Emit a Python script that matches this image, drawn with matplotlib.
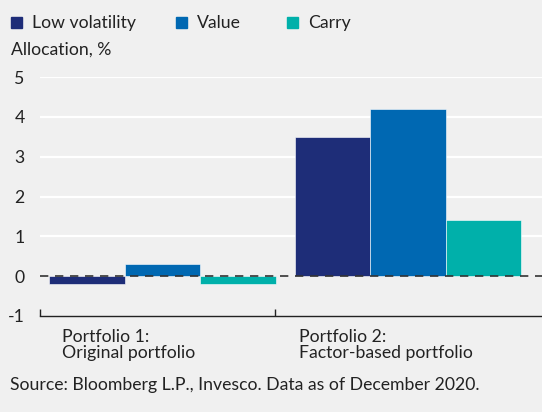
import matplotlib
matplotlib.use("Agg")
import matplotlib.pyplot as plt
from matplotlib.patches import Rectangle

series = ["Low volatility", "Value", "Carry"]
portfolios = ["Portfolio 1:\nOriginal portfolio", "Portfolio 2:\nFactor-based portfolio"]
low_vol = [-0.2, 3.5]
value = [0.3, 4.2]
carry = [-0.2, 1.4]
yticks = [-1, 0, 1, 2, 3, 4, 5]

colors = ["#1e2d78", "#0068b2", "#00b0aa"]
bg = "#f0f0f0"
plt.rcParams["font.family"] = ["Lato", "DejaVu Sans"]
fs = 12.7

fig = plt.figure(figsize=(5.42, 4.12), dpi=100, facecolor=bg)
ax = fig.add_axes([40 / 542, 96 / 412, 502 / 542, 239 / 412], facecolor=bg)

w = 0.308
offsets = [-w, 0, w]
centers = [0, 1]
for vals, off, c in zip([low_vol, value, carry], offsets, colors):
    ax.bar([x + off for x in centers], vals, width=w, color=c,
           edgecolor="#ffffff", linewidth=0.4, zorder=3)

ax.set_xlim(-0.499, 1.546)
ax.set_ylim(-1, 5)
ax.set_yticks(yticks)
ax.set_yticklabels([str(t) for t in yticks], fontsize=fs, color="#222222")
ax.tick_params(axis="y", length=0, pad=11)
for t in yticks[2:]:
    ax.axhline(t, color="white", lw=1.6, zorder=1)
ax.axhline(0, color="#333333", lw=1.2, ls=(0, (5, 4)), zorder=4)

for s in ["top", "right", "left"]:
    ax.spines[s].set_visible(False)
ax.spines["bottom"].set_color("#222222")
ax.spines["bottom"].set_linewidth(1.0)
ax.set_xticks([-0.499, 0.458])
ax.set_xticklabels([])
ax.tick_params(axis="x", length=5, width=1.0, color="#222222", direction="in")

label_x = [-0.41, 0.555]
for x, lab in zip(label_x, portfolios):
    ax.text(x, -1.32, lab, ha="left", va="top", fontsize=fs, color="#222222",
            linespacing=1.0)

# legend
lx = [11, 176, 287]
for x0, name, c in zip(lx, series, colors):
    fig.patches.append(Rectangle((x0 / 542, 1 - 28 / 412), 11 / 542, 11 / 412,
                                 transform=fig.transFigure, color=c))
    fig.text((x0 + 21) / 542, 1 - 23 / 412, name, fontsize=fs, va="center",
             ha="left", color="#222222")

fig.text(11 / 542, 1 - 50 / 412, "Allocation, %", fontsize=fs, va="center",
         ha="left", color="#222222")
fig.text(10 / 542, 1 - 385 / 412, "Source: Bloomberg L.P., Invesco. Data as of December 2020.",
         fontsize=fs, va="center", ha="left", color="#222222")

fig.savefig("out.png", dpi=100, facecolor=bg)
